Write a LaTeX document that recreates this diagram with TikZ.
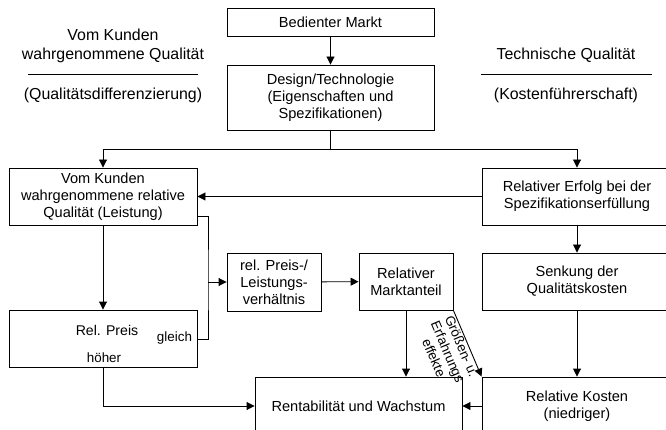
\documentclass[tikz,border=0pt]{standalone}
\usepackage{fontspec}
\setmainfont{Liberation Sans}
\usetikzlibrary{arrows.meta}

\begin{document}
\begin{tikzpicture}[x=1pt, y=-1pt, line width=0.9pt,
  box/.style = {draw, align=center, inner sep=0pt, font=\fontsize{14.6}{17}\selectfont},
  kopf/.style = {align=center, inner sep=0pt, font=\fontsize{15.9}{19}\selectfont},
  klein/.style = {align=center, inner sep=0pt, font=\fontsize{13.4}{15}\selectfont},
  pfeil/.style = {-{Triangle[length=8pt, width=8pt]}}]
\useasboundingbox (0,0) rectangle (666,430);
\node[kopf] (kunde) at (113,46) {Vom Kunden\\wahrgenommene Qualität};
\node[kopf] (differenz) at (113,95) {(Qualitätsdifferenzierung)};
\node[kopf] (technik) at (566,55) {Technische Qualität};
\node[kopf] (fuehrung) at (566,95) {(Kostenführerschaft)};
\draw (28,74) -- (198,74);
\draw (481,74) -- (652,74);
\node[box, minimum width=207, minimum height=28] (markt) at (330.5,22) {Bedienter Markt};
\node[box, minimum width=207, minimum height=65] (design) at (330.5,97.5) {Design/Technologie\\(Eigenschaften und\\Spezifikationen)};
\node[box, minimum width=188, minimum height=57] (kunden) at (103,196.5) {Vom Kunden\\wahrgenommene relative\\Qualität (Leistung)};
\node[box, minimum width=190, minimum height=57] (erfolg) at (577,196.5) {Relativer Erfolg bei der\\Spezifikationserfüllung};
\node[box, minimum width=188, minimum height=57] (preis) at (103,338.5) {};
\node[box, minimum width=94, minimum height=58] (plv) at (274,282) {rel. Preis-/\\Leistungs-\\verhältnis};
\node[box, minimum width=94, minimum height=57] (anteil) at (406,281.5) {Relativer\\Marktanteil};
\node[box, minimum width=190, minimum height=57] (senkung) at (577,281.5) {Senkung der\\Qualitätskosten};
\node[box, minimum width=207, minimum height=58] (rent) at (358.5,406) {Rentabilität und Wachstum};
\node[box, minimum width=190, minimum height=58] (kosten) at (577,406) {Relative Kosten\\(niedriger)};
\node[klein, font=\fontsize{14.1}{16}\selectfont] (relpreis) at (107,330) {Rel. Preis};
\node[klein] (gleich) at (174.5,338) {gleich};
\node[klein] (hoeher) at (104,358) {höher};
\coordinate (teil) at (330.5,149);
\coordinate (gabel) at (208,282);
\draw[pfeil] (markt) -- (design);
\draw (design) -- (teil);
\draw[pfeil] (teil) -| (kunden);
\draw[pfeil] (teil) -| (erfolg);
\draw[pfeil] (erfolg) -- (kunden);
\draw[pfeil] (kunden) -- (preis);
\draw (kunden.east |- 0,216) -| (gabel) |- (preis.east |- 0,339);
\draw[pfeil] (gabel) -- (plv);
\draw[pfeil] (plv) -- (anteil);
\draw[pfeil] (erfolg) -- (senkung);
\draw[pfeil] (senkung) -- (kosten);
\draw[pfeil] (anteil) -- (anteil |- rent.north);
\draw[pfeil] (kosten) -- (rent);
\draw[pfeil] (preis) |- (rent);
\draw[pfeil] (anteil.south east) -- node[klein, midway, sloped, below=1pt] {Größen- u.\\Erfahrungs\\effekte} (kosten.north west);
\end{tikzpicture}
\end{document}
